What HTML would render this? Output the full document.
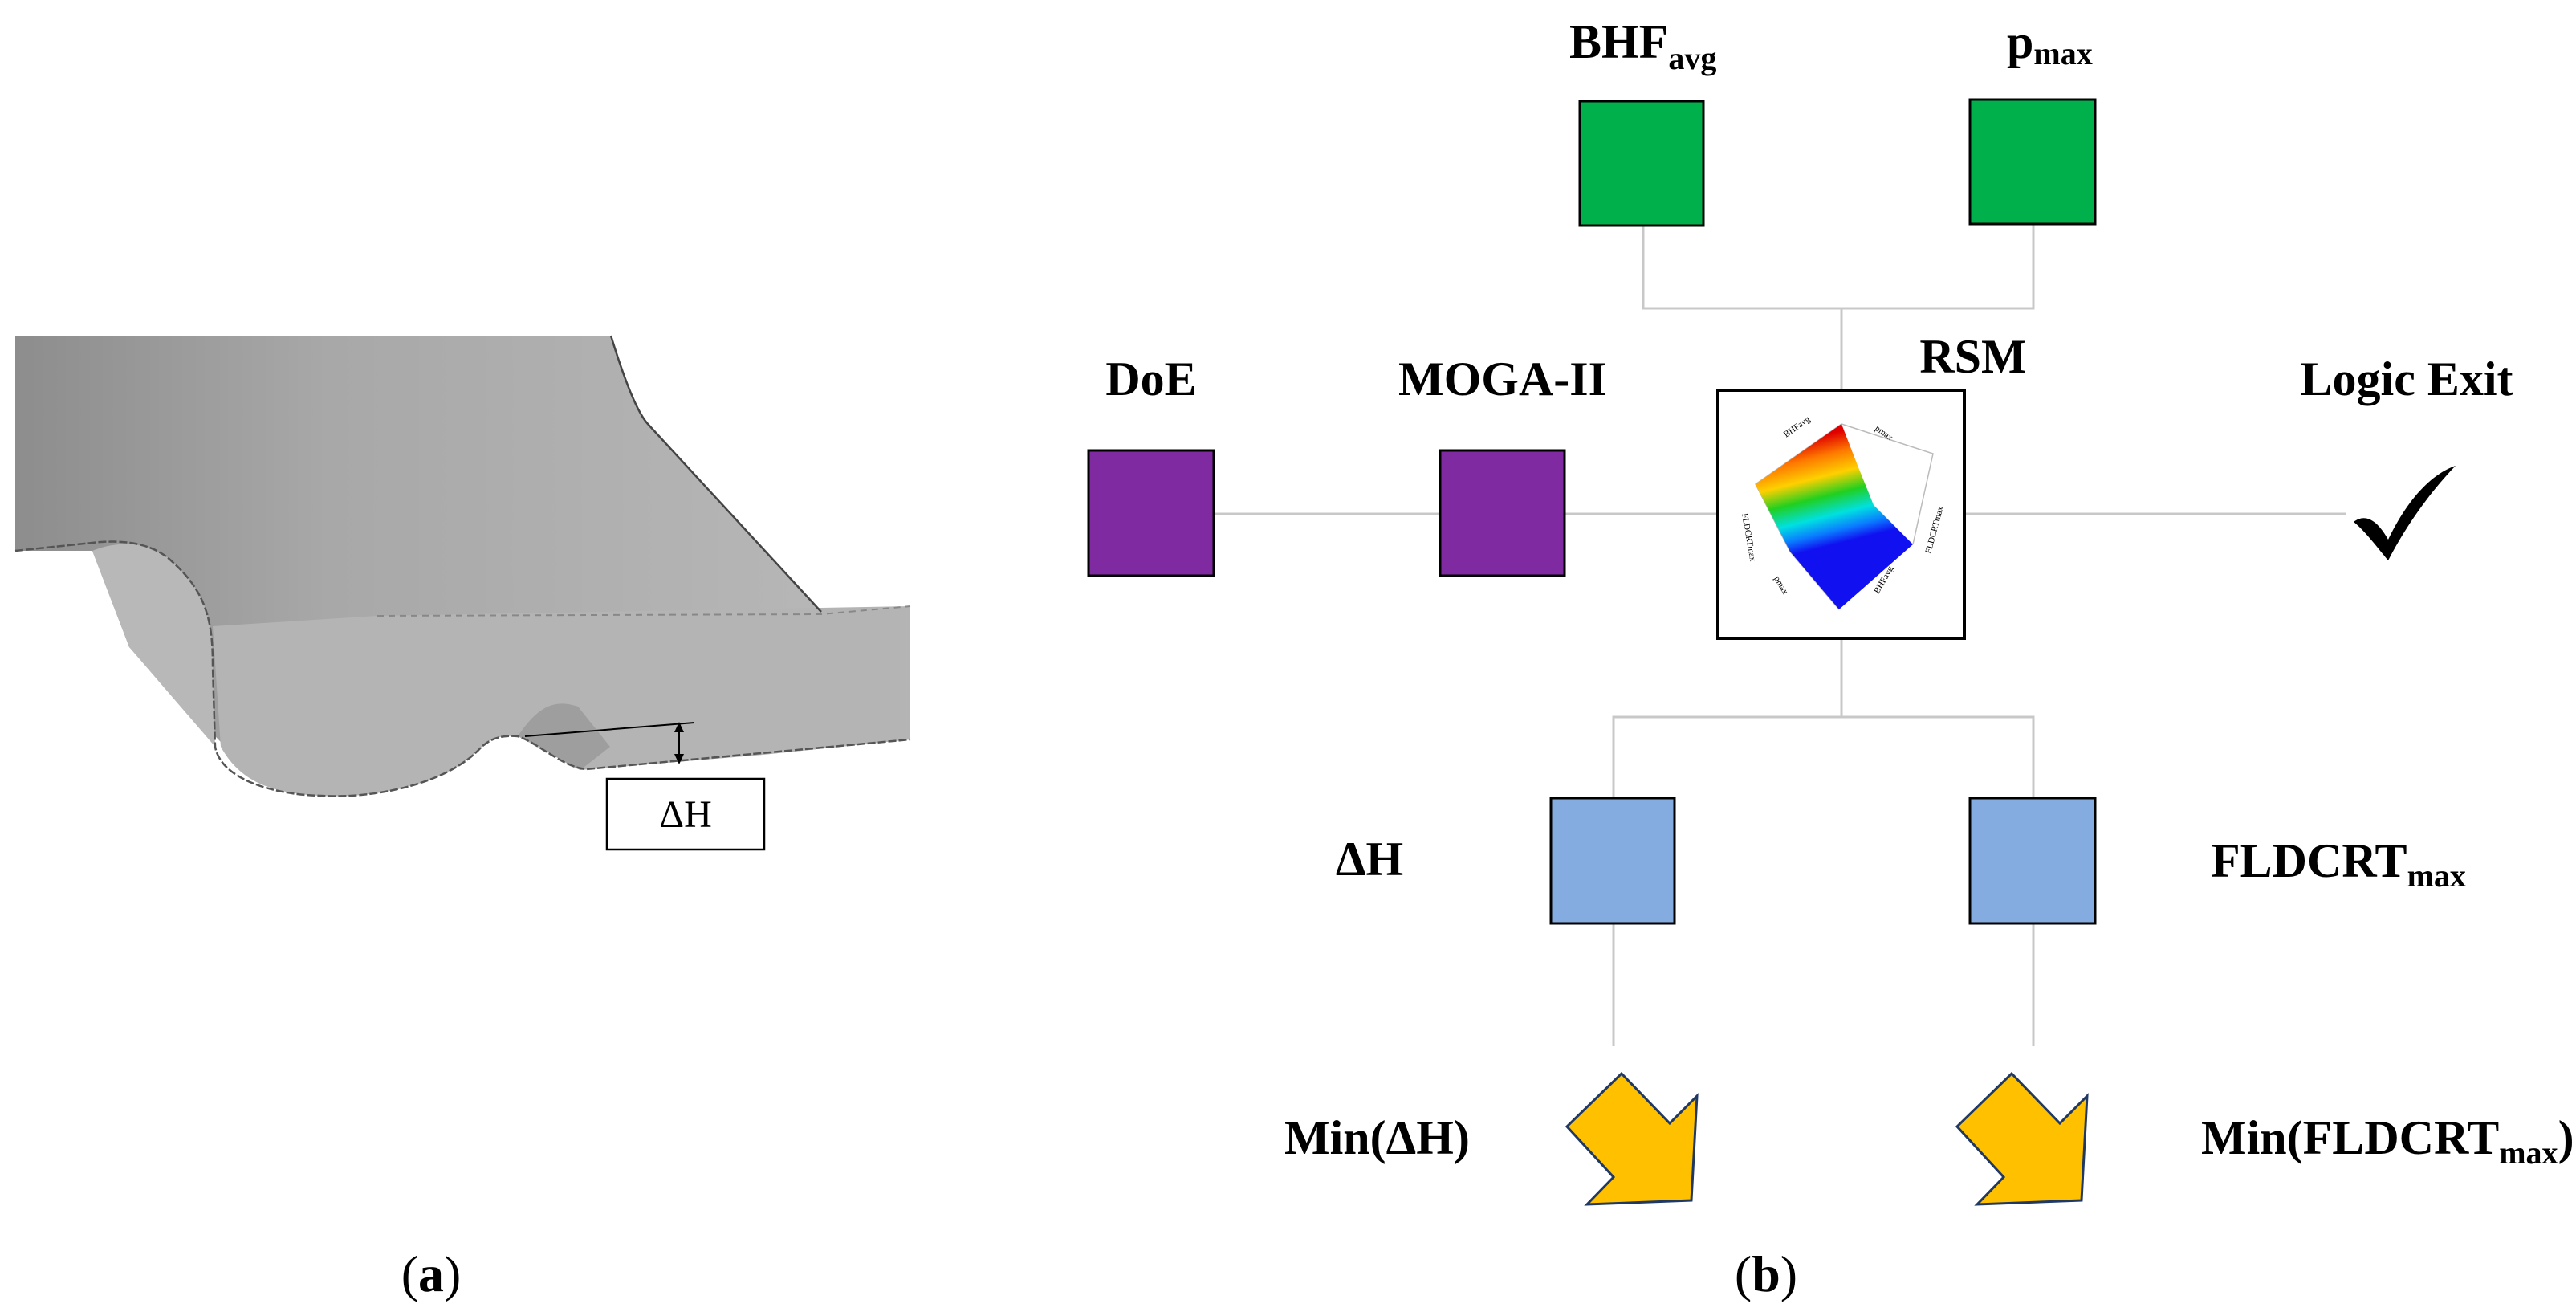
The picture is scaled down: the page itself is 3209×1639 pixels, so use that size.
<!DOCTYPE html>
<html><head><meta charset="utf-8"><style>
html,body{margin:0;padding:0;background:#fff;}
svg{display:block;}
text{font-family:"Liberation Serif",serif;fill:#000;}
.b{font-weight:bold;font-size:60px;}
</style></head><body>
<svg width="3209" height="1639" viewBox="0 0 3209 1639" xmlns="http://www.w3.org/2000/svg">
<defs>
<linearGradient id="g1" x1="0" y1="0" x2="1" y2="0">
<stop offset="0" stop-color="#8d8d8d"/><stop offset="0.35" stop-color="#a8a8a8"/><stop offset="1" stop-color="#b9b9b9"/>
</linearGradient>
<linearGradient id="rb" gradientUnits="userSpaceOnUse" x1="2260" y1="545" x2="2300" y2="705">
<stop offset="0" stop-color="#e00000"/><stop offset="0.15" stop-color="#ff7a00"/><stop offset="0.3" stop-color="#ffd000"/>
<stop offset="0.45" stop-color="#20d020"/><stop offset="0.6" stop-color="#00e0e0"/><stop offset="0.72" stop-color="#0a7cff"/><stop offset="0.82" stop-color="#1010f0"/><stop offset="1" stop-color="#1010f0"/>
</linearGradient>
</defs>

<!-- Panel (a) -->
<path d="M19,418 L761,418 C780,480 795,515 807,528 L1023,762 L1134,755 L1134,921 L950,940 L723,959 C700,950 670,925 645,917 C620,915 610,922 600,930 C560,975 470,995 400,991 C340,988 315,975 300,950 L161,806 L115,686 L19,686 Z" fill="url(#g1)"/>
<!-- left side wall lighter -->
<path d="M115,686 C150,672 190,675 215,700 C260,740 265,780 265,830 L268,930 L161,806 Z" fill="#b8b8b8"/>
<!-- front lighter face -->
<path d="M265,780 L470,767 L1134,755 L1134,921 L950,940 L723,959 C700,950 670,925 645,917 C620,915 610,922 600,930 C560,975 470,995 400,991 C340,988 300,975 275,930 Z" fill="#b4b4b4"/>
<path d="M645,917 C670,880 690,870 720,880 L760,930 L723,959 Z" fill="#8f8f8f" opacity="0.6"/>
<!-- outlines -->
<path d="M761,418 C780,480 795,515 807,528 L1023,762" fill="none" stroke="#444" stroke-width="2.5"/>
<path d="M19,686 L115,676 C150,672 190,675 215,700 C260,740 265,780 265,830 L268,930 C275,970 340,990 400,991 C470,995 560,975 600,930 C610,922 620,915 645,917 C670,925 700,955 730,958 L1134,921" fill="none" stroke="#555" stroke-width="2.5" stroke-dasharray="10,3"/>
<path d="M470,767 L1023,765 L1134,755" fill="none" stroke="#888" stroke-width="2" stroke-dasharray="8,6"/>
<line x1="654" y1="917" x2="865" y2="900" stroke="#000" stroke-width="2"/>
<line x1="846" y1="905" x2="846" y2="946" stroke="#000" stroke-width="2"/>
<polygon points="846,899 840,912 852,912" fill="#000"/>
<polygon points="846,952 840,939 852,939" fill="#000"/>
<rect x="756" y="970" width="196" height="88" fill="#fff" stroke="#000" stroke-width="2.5"/>
<text x="854" y="1030" font-size="48" text-anchor="middle">ΔH</text>
<text x="537" y="1608" font-size="64" text-anchor="middle">(<tspan font-weight="bold">a</tspan>)</text>

<!-- Panel (b) connectors -->
<g stroke="#c8c8c8" stroke-width="3" fill="none">
<path d="M2047,281 V384 H2533 V279"/>
<path d="M2294,384 V486"/>
<path d="M1512,640 H1794"/>
<path d="M1949,640 H2140"/>
<path d="M2447,640 H2922"/>
<path d="M2294,795 V893"/>
<path d="M2010,1303 V893 H2533 V1303"/>
</g>

<rect x="1968" y="126" width="154" height="155" fill="#00b04b" stroke="#000" stroke-width="3"/>
<rect x="2454" y="124" width="156" height="155" fill="#00b04b" stroke="#000" stroke-width="3"/>
<rect x="1356" y="561" width="156" height="156" fill="#7f2aa0" stroke="#000" stroke-width="3"/>
<rect x="1794" y="561" width="155" height="156" fill="#7f2aa0" stroke="#000" stroke-width="3"/>
<rect x="1932" y="994" width="154" height="156" fill="#84ace0" stroke="#000" stroke-width="3"/>
<rect x="2454" y="994" width="156" height="156" fill="#84ace0" stroke="#000" stroke-width="3"/>

<rect x="2140" y="486" width="307" height="309" fill="#fff" stroke="#000" stroke-width="4"/>
<g stroke="#bbb" stroke-width="1.5" fill="none">
<path d="M2294,528 L2187,603 L2230,687 L2291,759"/>
<path d="M2294,528 L2408,565 L2383,678"/>
<path d="M2294,528 L2294,560"/>
</g>
<polygon points="2294,528 2187,603 2230,687 2291,759 2383,678 2334,629 2313,577" fill="url(#rb)"/>
<g font-size="11" fill="#666">
<text x="2225" y="545" transform="rotate(-35 2225 545)">BHFavg</text>
<text x="2335" y="535" transform="rotate(35 2335 535)">pmax</text>
<text x="2170" y="640" transform="rotate(80 2170 640)">FLDCRTmax</text>
<text x="2405" y="690" transform="rotate(-75 2405 690)">FLDCRTmax</text>
<text x="2210" y="720" transform="rotate(60 2210 720)">pmax</text>
<text x="2340" y="740" transform="rotate(-60 2340 740)">BHFavg</text>
</g>

<path d="M2932,650 C2945,640 2960,645 2975,672 C3000,620 3030,590 3059,580 C3030,610 3000,650 2975,698 C2960,680 2945,660 2932,650 Z" fill="#000"/>

<polygon points="2020,1337 2080,1399 2114,1365 2107,1495 1977,1500 2010,1466 1952,1403" fill="#ffc000" stroke="#1f3864" stroke-width="3"/>
<polygon points="2506,1337 2566,1399 2600,1365 2593,1495 2463,1500 2496,1466 2438,1403" fill="#ffc000" stroke="#1f3864" stroke-width="3"/>

<text class="b" x="1955" y="72">BHF<tspan font-size="40" dy="14">avg</tspan></text>
<text class="b" x="2500" y="72">p<tspan font-size="40" dy="8">max</tspan></text>
<text class="b" x="1434" y="492" text-anchor="middle">DoE</text>
<text class="b" x="1872" y="492" text-anchor="middle">MOGA-II</text>
<text class="b" x="2458" y="464" text-anchor="middle">RSM</text>
<text class="b" x="2998" y="492" text-anchor="middle">Logic Exit</text>
<text class="b" x="1706" y="1090" text-anchor="middle">ΔH</text>
<text class="b" x="2754" y="1092">FLDCRT<tspan font-size="40" dy="12">max</tspan></text>
<text class="b" x="1600" y="1437">Min(ΔH)</text>
<text class="b" x="2742" y="1437">Min(FLDCRT<tspan font-size="40" dy="12">max</tspan><tspan dy="-12">)</tspan></text>
<text x="2200" y="1608" font-size="64" text-anchor="middle">(<tspan font-weight="bold">b</tspan>)</text>
</svg>
</body></html>
